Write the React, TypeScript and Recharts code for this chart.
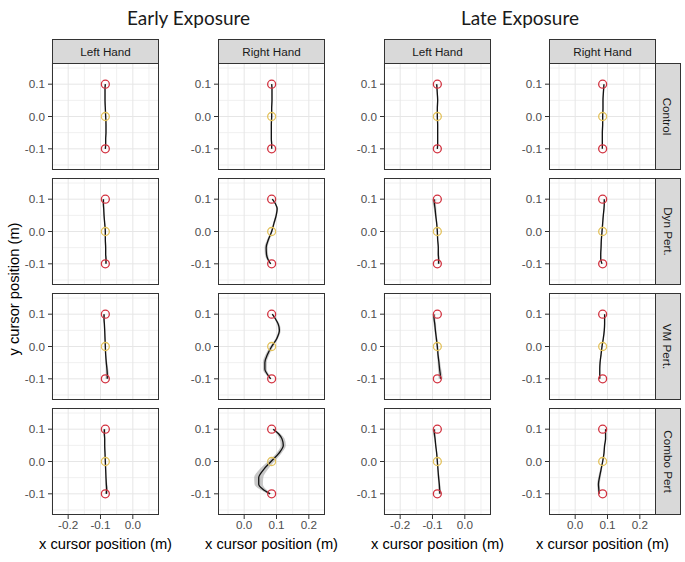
import { ComposedChart, Line, Area, Scatter, XAxis, YAxis, CartesianGrid } from 'recharts'

// y levels (m) where each mean trajectory is sampled
const PATH_Y = [-0.1, -0.085, -0.07, -0.05, -0.025, 0, 0.025, 0.05, 0.07, 0.085, 0.1]

const TARGET_Y = [-0.1, 0.1]
const HOME_Y = [0]
const TARGET_X = [-0.085, 0.085] // left hand, right hand

const EXPOSURES = ['Early Exposure', 'Late Exposure']
const HANDS = ['Left Hand', 'Right Hand']
const CONDITIONS = ['Control', 'Dyn Pert.', 'VM Pert.', 'Combo Pert']

// mean x (m) of each trajectory at PATH_Y, and half-width of its band
const earlyLeftControl = [-0.085, -0.084, -0.084, -0.083, -0.083, -0.084, -0.085, -0.086, -0.086, -0.086, -0.085]
const earlyLeftControlBand = [0.002, 0.002, 0.002, 0.002, 0.002, 0.002, 0.002, 0.002, 0.002, 0.002, 0.002]
const earlyLeftDyn = [-0.083, -0.083, -0.084, -0.084, -0.085, -0.085, -0.087, -0.089, -0.09, -0.091, -0.091]
const earlyLeftDynBand = [0.003, 0.003, 0.002, 0.002, 0.002, 0.002, 0.002, 0.002, 0.002, 0.003, 0.003]
const earlyLeftVm = [-0.079, -0.079, -0.08, -0.082, -0.084, -0.085, -0.086, -0.087, -0.088, -0.089, -0.089]
const earlyLeftVmBand = [0.006, 0.005, 0.004, 0.003, 0.002, 0.002, 0.002, 0.002, 0.002, 0.003, 0.003]
const earlyLeftCombo = [-0.082, -0.081, -0.082, -0.083, -0.084, -0.085, -0.086, -0.087, -0.087, -0.088, -0.088]
const earlyLeftComboBand = [0.005, 0.004, 0.003, 0.002, 0.002, 0.002, 0.002, 0.002, 0.002, 0.003, 0.004]

const earlyRightControl = [0.085, 0.085, 0.084, 0.084, 0.084, 0.085, 0.085, 0.086, 0.086, 0.086, 0.085]
const earlyRightControlBand = [0.002, 0.002, 0.002, 0.002, 0.002, 0.002, 0.002, 0.002, 0.002, 0.002, 0.002]
const earlyRightDyn = [0.082, 0.073, 0.069, 0.068, 0.075, 0.085, 0.092, 0.099, 0.102, 0.097, 0.087]
const earlyRightDynBand = [0.002, 0.004, 0.005, 0.005, 0.004, 0.003, 0.003, 0.003, 0.003, 0.002, 0.002]
const earlyRightVm = [0.082, 0.071, 0.064, 0.064, 0.072, 0.085, 0.101, 0.109, 0.105, 0.097, 0.087]
const earlyRightVmBand = [0.003, 0.005, 0.006, 0.006, 0.006, 0.005, 0.004, 0.004, 0.004, 0.003, 0.002]
const earlyRightCombo = [0.08, 0.057, 0.045, 0.045, 0.06, 0.083, 0.107, 0.121, 0.117, 0.107, 0.09]
const earlyRightComboBand = [0.006, 0.01, 0.013, 0.014, 0.013, 0.01, 0.008, 0.008, 0.008, 0.006, 0.004]

const lateLeftControl = [-0.085, -0.084, -0.084, -0.084, -0.084, -0.085, -0.085, -0.084, -0.085, -0.086, -0.087]
const lateLeftControlBand = [0.002, 0.002, 0.002, 0.002, 0.002, 0.002, 0.002, 0.002, 0.002, 0.002, 0.003]
const lateLeftDyn = [-0.081, -0.081, -0.082, -0.082, -0.084, -0.085, -0.087, -0.09, -0.092, -0.094, -0.095]
const lateLeftDynBand = [0.004, 0.003, 0.003, 0.002, 0.002, 0.002, 0.002, 0.003, 0.004, 0.005, 0.007]
const lateLeftVm = [-0.075, -0.076, -0.078, -0.08, -0.083, -0.085, -0.088, -0.091, -0.093, -0.095, -0.096]
const lateLeftVmBand = [0.006, 0.006, 0.005, 0.004, 0.003, 0.003, 0.003, 0.003, 0.004, 0.004, 0.005]
const lateLeftCombo = [-0.077, -0.078, -0.079, -0.081, -0.083, -0.085, -0.087, -0.09, -0.092, -0.094, -0.095]
const lateLeftComboBand = [0.004, 0.004, 0.003, 0.003, 0.002, 0.002, 0.002, 0.002, 0.003, 0.004, 0.005]

const lateRightControl = [0.084, 0.084, 0.084, 0.084, 0.085, 0.085, 0.086, 0.086, 0.087, 0.088, 0.089]
const lateRightControlBand = [0.002, 0.002, 0.002, 0.002, 0.002, 0.002, 0.002, 0.002, 0.002, 0.002, 0.002]
const lateRightDyn = [0.083, 0.079, 0.079, 0.08, 0.081, 0.083, 0.085, 0.087, 0.089, 0.09, 0.09]
const lateRightDynBand = [0.002, 0.002, 0.002, 0.002, 0.002, 0.002, 0.002, 0.002, 0.002, 0.002, 0.002]
const lateRightVm = [0.076, 0.076, 0.076, 0.077, 0.08, 0.083, 0.087, 0.09, 0.091, 0.091, 0.091]
const lateRightVmBand = [0.002, 0.002, 0.002, 0.002, 0.002, 0.002, 0.002, 0.002, 0.002, 0.002, 0.002]
const lateRightCombo = [0.074, 0.073, 0.072, 0.075, 0.08, 0.085, 0.089, 0.091, 0.094, 0.094, 0.094]
const lateRightComboBand = [0.003, 0.004, 0.004, 0.004, 0.003, 0.002, 0.002, 0.002, 0.002, 0.002, 0.002]

// [exposure][hand][condition] -> [mean x, band half-width]
const PATHS = [
  [
    [[earlyLeftControl, earlyLeftControlBand], [earlyLeftDyn, earlyLeftDynBand], [earlyLeftVm, earlyLeftVmBand], [earlyLeftCombo, earlyLeftComboBand]],
    [[earlyRightControl, earlyRightControlBand], [earlyRightDyn, earlyRightDynBand], [earlyRightVm, earlyRightVmBand], [earlyRightCombo, earlyRightComboBand]],
  ],
  [
    [[lateLeftControl, lateLeftControlBand], [lateLeftDyn, lateLeftDynBand], [lateLeftVm, lateLeftVmBand], [lateLeftCombo, lateLeftComboBand]],
    [[lateRightControl, lateRightControlBand], [lateRightDyn, lateRightDynBand], [lateRightVm, lateRightVmBand], [lateRightCombo, lateRightComboBand]],
  ],
]

// axis setup per hand
const X_DOMAINS: [number, number][] = [[-0.25, 0.081], [-0.081, 0.25]]
const X_TICKS = [[-0.2, -0.1, 0], [0, 0.1, 0.2]]
const X_MINOR = [[-0.25, -0.15, -0.05, 0.05], [-0.05, 0.05, 0.15, 0.25]]
const Y_DOMAIN: [number, number] = [-0.1655, 0.1655]
const Y_TICKS = [-0.1, 0, 0.1]
const Y_MINOR = [-0.15, -0.05, 0.05, 0.15]

// page layout
const COL_LEFT = [52, 218, 384, 549]
const ROW_TOP = [63, 178, 293, 408]
const PLOT_W = 107
const PLOT_H = 107
const Y_AXIS_W = 36
const X_AXIS_H = 24
const STRIP_TOP = 39
const STRIP_H = 24
const STRIP_W = 25

const FONT = 'Liberation Sans, Arial, sans-serif'
const fmt = (v: number) => v.toFixed(1)

function Ring(props: any) {
  const { cx, cy, stroke } = props
  if (cx == null || cy == null) return null
  return <circle cx={cx} cy={cy} r={4} fill="none" stroke={stroke} strokeWidth={1.3} />
}

function Panel({ exposure, hand, cond }: { exposure: number; hand: number; cond: number }) {
  const [xs, hw] = PATHS[exposure][hand][cond]
  const data = PATH_Y.map((y, i) => ({ y, x: xs[i], band: [xs[i] - hw[i], xs[i] + hw[i]] }))
  const targets = TARGET_Y.map((y) => ({ x: TARGET_X[hand], y }))
  const home = HOME_Y.map((y) => ({ x: TARGET_X[hand], y }))
  const col = exposure * 2 + hand
  const bottom = cond === CONDITIONS.length - 1

  return (
    <div style={{ position: 'absolute', left: COL_LEFT[col] - Y_AXIS_W, top: ROW_TOP[cond] }}>
      <ComposedChart
        layout="vertical"
        width={Y_AXIS_W + PLOT_W}
        height={PLOT_H + (bottom ? X_AXIS_H : 0)}
        data={data}
        margin={{ top: 0, right: 0, bottom: 0, left: 0 }}
      >
        <CartesianGrid
          stroke="#F0F0F0"
          strokeWidth={1}
          horizontalValues={Y_MINOR}
          verticalValues={X_MINOR[hand]}
        />
        <CartesianGrid
          stroke="#E6E6E6"
          strokeWidth={1}
          horizontalValues={Y_TICKS}
          verticalValues={X_TICKS[hand]}
        />
        <XAxis
          type="number"
          dataKey="x"
          domain={X_DOMAINS[hand]}
          allowDataOverflow
          ticks={X_TICKS[hand]}
          interval={0}
          tickFormatter={fmt}
          hide={!bottom}
          height={X_AXIS_H}
          axisLine={false}
          tickSize={4}
          tickMargin={2}
          tickLine={{ stroke: '#333333' }}
          tick={{ fill: '#4D4D4D', fontSize: 11.7, fontFamily: FONT }}
        />
        <YAxis
          type="number"
          dataKey="y"
          reversed
          domain={Y_DOMAIN}
          allowDataOverflow
          ticks={Y_TICKS}
          interval={0}
          tickFormatter={fmt}
          width={Y_AXIS_W}
          axisLine={false}
          tickSize={4}
          tickMargin={3}
          tickLine={{ stroke: '#333333' }}
          tick={{ fill: '#4D4D4D', fontSize: 11.7, fontFamily: FONT }}
        />
        <Area
          type="monotone"
          dataKey="band"
          stroke="none"
          fill="#9A9A9A"
          fillOpacity={0.55}
          isAnimationActive={false}
        />
        <Line
          type="monotone"
          dataKey="x"
          stroke="#111111"
          strokeWidth={1.3}
          dot={false}
          isAnimationActive={false}
        />
        <Scatter data={targets} dataKey="x" shape={<Ring stroke="#D2313F" />} isAnimationActive={false} />
        <Scatter data={home} dataKey="x" shape={<Ring stroke="#E3C25C" />} isAnimationActive={false} />
      </ComposedChart>
    </div>
  )
}

const box = {
  position: 'absolute' as const,
  boxSizing: 'border-box' as const,
  border: '1px solid #333333',
}

export default function App() {
  return (
    <div style={{ position: 'absolute', left: 0, top: 0, width: 685, height: 562, background: '#fff', fontFamily: FONT }}>
      {EXPOSURES.map((title, e) => (
        <div
          key={title}
          style={{
            position: 'absolute',
            left: COL_LEFT[e * 2],
            width: COL_LEFT[e * 2 + 1] + PLOT_W - COL_LEFT[e * 2],
            top: 6,
            textAlign: 'center',
            fontFamily: 'Lato, sans-serif',
            fontSize: 19,
            color: '#1A1A1A',
          }}
        >
          {title}
        </div>
      ))}

      {EXPOSURES.map((_, e) =>
        HANDS.map((_, h) =>
          CONDITIONS.map((_, c) => <Panel key={`${e}-${h}-${c}`} exposure={e} hand={h} cond={c} />)
        )
      )}

      {/* panel frames */}
      {COL_LEFT.map((left) =>
        ROW_TOP.map((top) => (
          <div key={`f${left}-${top}`} style={{ ...box, left, top, width: PLOT_W, height: PLOT_H }} />
        ))
      )}

      {/* column strips */}
      {COL_LEFT.map((left, i) => (
        <div
          key={`s${left}`}
          style={{
            ...box,
            left,
            top: STRIP_TOP,
            width: PLOT_W,
            height: STRIP_H + 1,
            background: '#D9D9D9',
            fontSize: 11.7,
            color: '#1A1A1A',
            display: 'flex',
            alignItems: 'center',
            justifyContent: 'center',
          }}
        >
          {HANDS[i % 2]}
        </div>
      ))}

      {/* row strips */}
      {ROW_TOP.map((top, r) => (
        <div
          key={`r${top}`}
          style={{
            ...box,
            left: COL_LEFT[3] + PLOT_W - 1,
            top,
            width: STRIP_W + 1,
            height: PLOT_H,
            background: '#D9D9D9',
            fontSize: 11.7,
            color: '#1A1A1A',
            display: 'flex',
            alignItems: 'center',
            justifyContent: 'center',
          }}
        >
          <span style={{ transform: 'rotate(90deg)', whiteSpace: 'nowrap' }}>{CONDITIONS[r]}</span>
        </div>
      ))}

      {/* axis titles */}
      {COL_LEFT.map((left) => (
        <div
          key={`xt${left}`}
          style={{
            position: 'absolute',
            left: left - 30,
            width: PLOT_W + 60,
            top: 536,
            textAlign: 'center',
            fontSize: 14.7,
            color: '#000',
            whiteSpace: 'nowrap',
          }}
        >
          x cursor position (m)
        </div>
      ))}
      <div
        style={{
          position: 'absolute',
          left: 14,
          top: 289,
          transform: 'translate(-50%, -50%) rotate(-90deg)',
          fontSize: 14.7,
          color: '#000',
          whiteSpace: 'nowrap',
        }}
      >
        y cursor position (m)
      </div>
    </div>
  )
}
